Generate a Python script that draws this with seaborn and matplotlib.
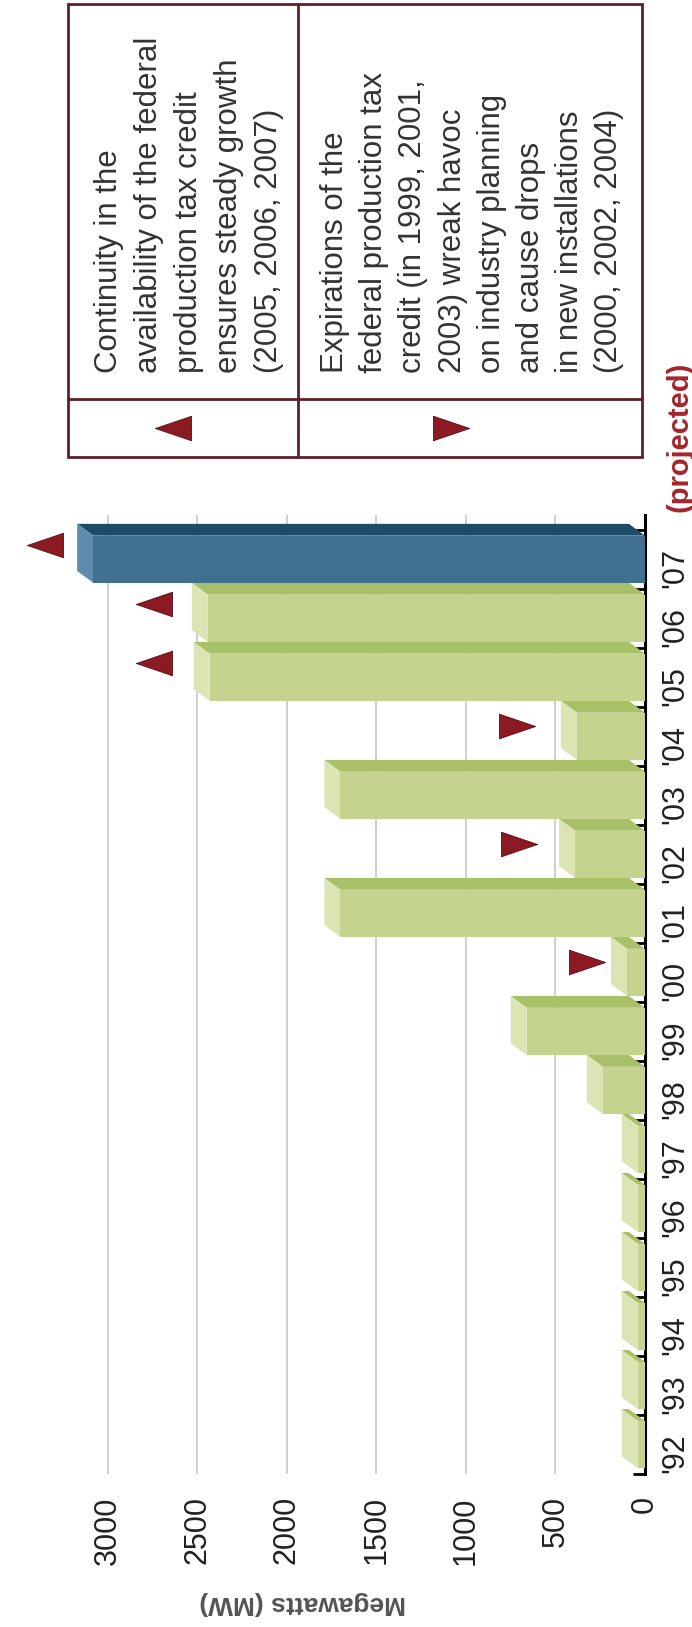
#------------------US wind power: new installed capacity per year, chart rotated a quarter turn------------------#

import numpy as np
import pandas as pd
import matplotlib.pyplot as plt
import seaborn as sns
from matplotlib.patches import Polygon, Rectangle
from matplotlib.transforms import blended_transform_factory

#Data ('07 is the projected year)
years = ["'92", "'93", "'94", "'95", "'96", "'97", "'98", "'99",
         "'00", "'01", "'02", "'03", "'04", "'05", "'06", "'07"]
megawatts = [40, 40, 40, 40, 40, 40, 235, 660, 100, 1700, 390, 1700, 380, 2430, 2440, 3080]
status = ['installed'] * 15 + ['projected']

#Triangles next to the bars (position in MW)
up_years = ["'05", "'06", "'07"]
up_mw = [2740, 2740, 3350]
down_years = ["'00", "'02", "'04"]
down_mw = [325, 705, 715]

mw_ticks = [0, 500, 1000, 1500, 2000, 2500, 3000]

continuity_text = ['Continuity in the', 'availability of the federal', 'production tax credit',
                   'ensures steady growth', '(2005, 2006, 2007)']
expiration_text = ['Expirations of the', 'federal production tax', 'credit (in 1999, 2001,',
                   '2003) wreak havoc', 'on industry planning', 'and cause drops',
                   'in new installations', '(2000, 2002, 2004)']

#Colours
green = {'front': '#c4d48f', 'side': '#a9bf68', 'cap': '#dbe5b3'}
blue = {'front': '#40708f', 'side': '#1d4b68', 'cap': '#5f8cad'}
red = '#8c1a23'
border = '#5e1f28'

sns.set_style('white')
plt.rcParams['font.family'] = ['Liberation Sans', 'DejaVu Sans']

fig = plt.figure(figsize=(6.92, 16.27), dpi=100)
ax = fig.add_axes([36 / 692, 153 / 1627, 609 / 692, 959 / 1627])

#Bars: '07 at the top, '92 at the bottom, value axis running right to left
order = years[::-1]
df = pd.DataFrame({'year': years, 'mw': megawatts, 'status': status})
bar_w = 0.8
sns.barplot(data=df, x='mw', y='year', hue='status', order=order, orient='h',
            palette={'installed': green['front'], 'projected': blue['front']},
            width=bar_w, dodge=False, saturation=1, linewidth=0, legend=False,
            ax=ax, zorder=3)

#Fake 3D depth: side face and end cap for every bar
dx, dy = 90, 0.2
for yr, v, st in zip(years, megawatts, status):
    pal = blue if st == 'projected' else green
    c = order.index(yr)
    top = c - bar_w / 2
    bot = c + bar_w / 2
    side = Polygon([(0, top), (v, top), (v + dx, top - dy), (dx, top - dy)],
                   closed=True, fc=pal['side'], ec='none', zorder=2.5)
    cap = Polygon([(v, top), (v, bot), (v + dx, bot - dy), (v + dx, top - dy)],
                  closed=True, fc=pal['cap'], ec='none', zorder=2.6)
    ax.add_patch(side)
    ax.add_patch(cap)

#Triangle markers
left_tri = [(-1, 0), (1, -0.68), (1, 0.68), (-1, 0)]
right_tri = [(1, 0), (-1, -0.68), (-1, 0.68), (1, 0)]
ax.scatter(up_mw, [order.index(y) - 0.25 for y in up_years], marker=left_tri, s=26 ** 2,
           c=red, edgecolors='#5a0d14', linewidths=0.6, zorder=5, clip_on=False)
ax.scatter(down_mw, [order.index(y) - 0.18 for y in down_years], marker=right_tri, s=26 ** 2,
           c=red, edgecolors='#5a0d14', linewidths=0.6, zorder=5, clip_on=False)

#Axes styling
ax.set_xlim(3400, 0)
ax.set_ylim(15.5, -0.75)
ax.set_xticks(mw_ticks)
ax.xaxis.grid(True, color='#c4c4c4', lw=1.1)
ax.yaxis.grid(False)
ax.set_axisbelow(True)
for s in ['top', 'left', 'bottom']:
    ax.spines[s].set_visible(False)
ax.spines['right'].set_color('black')
ax.spines['right'].set_linewidth(2.2)

ax.yaxis.tick_right()
ax.tick_params(axis='y', which='major', length=0, labelsize=22, pad=11,
               labelrotation=90, labelcolor='#222222')
ax.set_yticks(np.arange(-0.5, 15.6, 1), minor=True)
ax.tick_params(axis='y', which='minor', direction='in', length=8.5, width=2,
               right=True, left=False, color='black')
ax.tick_params(axis='x', length=0, labelsize=22, pad=16, labelrotation=90,
               labelcolor='#222222')

ax.set_ylabel('')
ax.set_xlabel('Megawatts (MW)', fontsize=19, fontweight='bold', color='#555555',
              rotation=180, va='center')
ax.xaxis.set_label_coords(0.437, -0.1345)

ax.text(1.056, -0.805, '(projected)', transform=blended_transform_factory(ax.transAxes, ax.transData),
        rotation=90, ha='center', va='bottom', fontsize=21, fontweight='bold',
        color='#a3262c', clip_on=False)

#Legend table at the top
tab = fig.add_axes([68 / 692, (1627 - 457) / 1627, 574 / 692, 453 / 1627])
tab.set_xlim(0, 574)
tab.set_ylim(453, 0)
tab.axis('off')
tab.add_patch(Rectangle((0, 0), 574, 453, fill=False, ec=border, lw=2, clip_on=False))
tab.plot([230, 230], [0, 453], color=border, lw=2, clip_on=False)
tab.plot([0, 574], [395, 395], color=border, lw=2, clip_on=False)

for i, line in enumerate(continuity_text):
    tab.text(41 + 40 * i, 369, line, rotation=90, ha='center', va='bottom',
             fontsize=22.5, color='#333333')
for i, line in enumerate(expiration_text):
    tab.text(267 + 39.2 * i, 369, line, rotation=90, ha='center', va='bottom',
             fontsize=22.5, color='#333333')

tab.scatter([105], [424], marker=left_tri, s=26 ** 2, c=red, edgecolors='#5a0d14',
            linewidths=0.6, clip_on=False)
tab.scatter([383], [424], marker=right_tri, s=26 ** 2, c=red, edgecolors='#5a0d14',
            linewidths=0.6, clip_on=False)

fig.savefig('out.png', dpi=100)
